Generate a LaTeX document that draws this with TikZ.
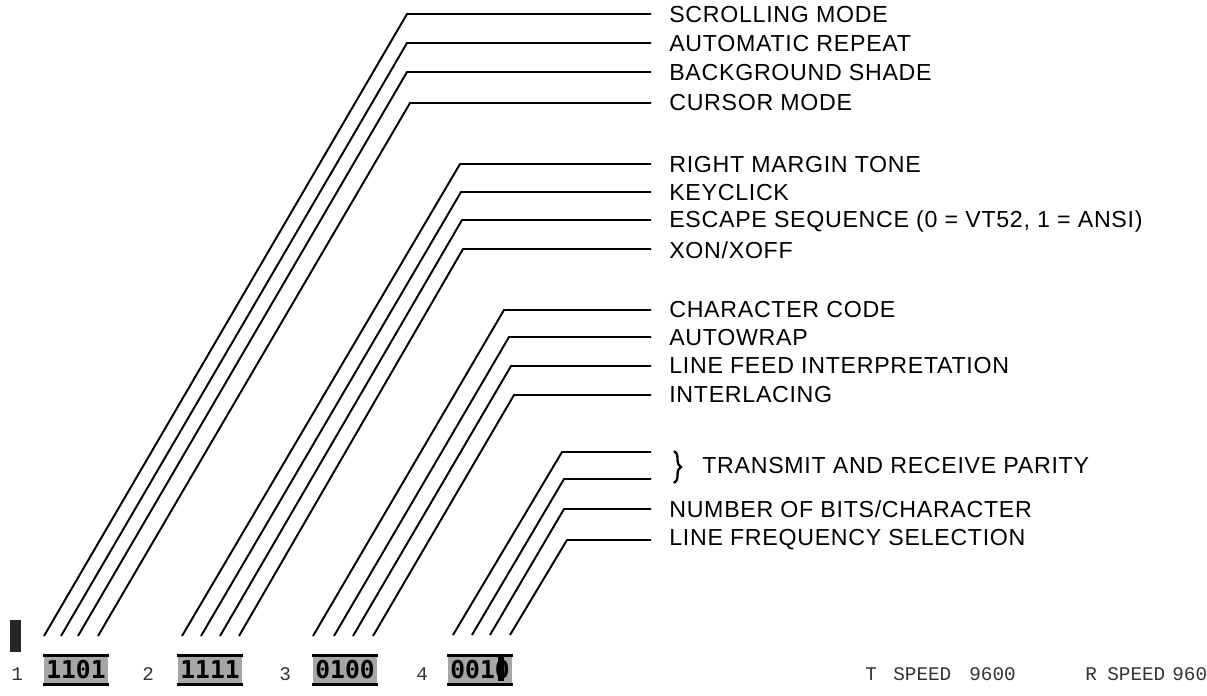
\documentclass[tikz,border=0pt]{standalone}
\usepackage{fontspec}
\setmainfont{Liberation Sans}
\newfontfamily\lblfont[LetterSpace=3]{Liberation Sans}
\newfontfamily\dotfont{Liberation Mono}
\newfontfamily\bitfont{DejaVu Sans Mono}
\usetikzlibrary{calc,decorations.pathreplacing}

\begin{document}
\begin{tikzpicture}[x=0.02cm, y=-0.02cm,
    lead/.style={line width=1.1pt, line join=miter},
    lbl/.style={anchor=west, inner xsep=0.36cm, inner ysep=0pt,
        font=\lblfont\fontsize{13.2}{15}\selectfont},
    scr/.style={anchor=base west, inner sep=0pt, text=black!80,
        font=\dotfont\fontsize{11}{13}\selectfont},
    blk/.style={minimum width=1.3cm, minimum height=0.56cm, inner sep=0pt,
        fill=black!35, font=\bitfont\bfseries\fontsize{14}{16}\selectfont}]

    \useasboundingbox (0,0) rectangle (1207,696);

    %labels on the right
        \node[lbl] (scroll) at (651,15) {SCROLLING MODE};
        \node[lbl] (autorep) at (651,44) {AUTOMATIC REPEAT};
        \node[lbl] (shade) at (651,73) {BACKGROUND SHADE};
        \node[lbl] (cursor) at (651,103) {CURSOR MODE};

        \node[lbl] (margin) at (651,165) {RIGHT MARGIN TONE};
        \node[lbl] (click) at (651,193) {KEYCLICK};
        \node[lbl] (escape) at (651,221) {ESCAPE SEQUENCE (0 = VT52, 1 = ANSI)};
        \node[lbl] (xon) at (651,250) {XON/XOFF};

        \node[lbl] (charcode) at (651,310) {CHARACTER CODE};
        \node[lbl] (wrap) at (651,338) {AUTOWRAP};
        \node[lbl] (linefeed) at (651,366) {LINE FEED INTERPRETATION};
        \node[lbl] (interlace) at (651,395) {INTERLACING};

        \node[lbl, inner xsep=1.02cm] (parity) at (651,466) {TRANSMIT AND RECEIVE PARITY};
        \node[lbl] (nbits) at (651,509) {NUMBER OF BITS/CHARACTER};
        \node[lbl] (linefreq) at (651,540) {LINE FREQUENCY SELECTION};

    %mark points at the bottom
        \coordinate (b1) at (44,636);
        \coordinate (b2) at (61,636);
        \coordinate (b3) at (78,636);
        \coordinate (b4) at (98,636);
        \coordinate (b5) at (182,636);
        \coordinate (b6) at (201,636);
        \coordinate (b7) at (220,636);
        \coordinate (b8) at (239,636);
        \coordinate (b9) at (313,636);
        \coordinate (b10) at (334,636);
        \coordinate (b11) at (353,636);
        \coordinate (b12) at (373,636);
        \coordinate (b13) at (453,635);
        \coordinate (b14) at (472,635);
        \coordinate (b15) at (490,635);
        \coordinate (b16) at (510,635);

    %mark the bends
        \coordinate (c1) at (407,14);
        \coordinate (c2) at (407,43);
        \coordinate (c3) at (407,72);
        \coordinate (c4) at (410,103);
        \coordinate (c5) at (460,164);
        \coordinate (c6) at (461,192);
        \coordinate (c7) at (462,220);
        \coordinate (c8) at (463,249);
        \coordinate (c9) at (504,310);
        \coordinate (c10) at (509,337);
        \coordinate (c11) at (511,366);
        \coordinate (c12) at (514,395);
        \coordinate (c13) at (562,452);
        \coordinate (c14) at (564,479);
        \coordinate (c15) at (564,509);
        \coordinate (c16) at (567,540);

    %draw the leaders
        \draw[lead] (b1) -- (c1) -- (c1 -| scroll.west);
        \draw[lead] (b2) -- (c2) -- (c2 -| autorep.west);
        \draw[lead] (b3) -- (c3) -- (c3 -| shade.west);
        \draw[lead] (b4) -- (c4) -- (c4 -| cursor.west);
        \draw[lead] (b5) -- (c5) -- (c5 -| margin.west);
        \draw[lead] (b6) -- (c6) -- (c6 -| click.west);
        \draw[lead] (b7) -- (c7) -- (c7 -| escape.west);
        \draw[lead] (b8) -- (c8) -- (c8 -| xon.west);
        \draw[lead] (b9) -- (c9) -- (c9 -| charcode.west);
        \draw[lead] (b10) -- (c10) -- (c10 -| wrap.west);
        \draw[lead] (b11) -- (c11) -- (c11 -| linefeed.west);
        \draw[lead] (b12) -- (c12) -- (c12 -| interlace.west);
        \draw[lead] (b13) -- (c13) -- (c13 -| parity.west);
        \draw[lead] (b14) -- (c14) -- (c14 -| parity.west);
        \draw[lead] (b15) -- (c15) -- (c15 -| nbits.west);
        \draw[lead] (b16) -- (c16) -- (c16 -| linefreq.west);

    %brace for the parity pair
        \draw[line width=1.3pt, decorate, decoration={brace, amplitude=4pt}]
            ($(parity.west)+(23,-15)$) -- ($(parity.west)+(23,17)$);

    %set-up line at the bottom
        \fill[black!85] (10,620) rectangle (21,652);
        \node[scr] (g1) at (11,680) {1};
        \node[blk] (blk1) at (76,670) {1101};
        \node[scr] (g2) at (142,680) {2};
        \node[blk] (blk2) at (210,670) {1111};
        \node[scr] (g3) at (279,680) {3};
        \node[blk] (blk3) at (345,670) {0100};
        \node[scr] (g4) at (416,680) {4};
        \node[blk] (blk4) at (480,670) {0010};
        \fill[black] (498,657) rectangle (504,681);
        \draw[line width=1.6pt] (blk1.north west) -- (blk1.north east) (blk1.south west) -- (blk1.south east);
        \draw[line width=1.6pt] (blk2.north west) -- (blk2.north east) (blk2.south west) -- (blk2.south east);
        \draw[line width=1.6pt] (blk3.north west) -- (blk3.north east) (blk3.south west) -- (blk3.south east);
        \draw[line width=1.6pt] (blk4.north west) -- (blk4.north east) (blk4.south west) -- (blk4.south east);

        \node[scr] (tlet) at (865,680) {T};
        \node[scr] (tspeed) at (893,680) {SPEED};
        \node[scr] (tval) at (969,680) {9600};
        \node[scr] (rlet) at (1085,680) {R};
        \node[scr] (rspeed) at (1107,680) {SPEED};
        \node[scr] (rval) at (1172,680) {960};

\end{tikzpicture}
\end{document}
